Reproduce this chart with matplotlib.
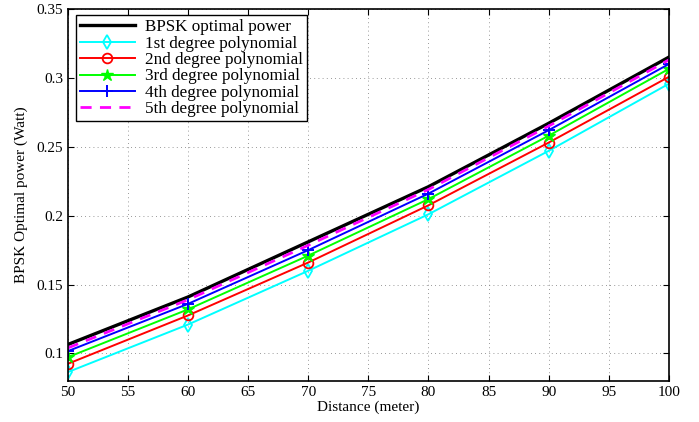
import matplotlib.pyplot as plt
import numpy as np

plt.rcParams["font.family"] = ["Liberation Serif", "DejaVu Serif"]
plt.rcParams["mathtext.fontset"] = "stix"

distance = [50, 60, 70, 80, 90, 100]
bpsk_opt = [0.1065, 0.1410, 0.1810, 0.2210, 0.2670, 0.3150]
poly1 = [0.0865, 0.1210, 0.1600, 0.2010, 0.2470, 0.2957]
poly2 = [0.0925, 0.1276, 0.1660, 0.2075, 0.2530, 0.3007]
poly3 = [0.0973, 0.1320, 0.1710, 0.2120, 0.2580, 0.3065]
poly4 = [0.1017, 0.1360, 0.1750, 0.2160, 0.2620, 0.3100]
poly5 = [0.1040, 0.1390, 0.1785, 0.2190, 0.2650, 0.3130]

xticks = np.arange(50, 101, 5)
yticks = [0.1, 0.15, 0.2, 0.25, 0.3, 0.35]
ytick_labels = ["0.1", "0.15", "0.2", "0.25", "0.3", "0.35"]

fig = plt.figure(figsize=(6.99, 4.22), dpi=100)
ax = fig.add_axes([0.097, 0.097, 0.86, 0.882])

ax.plot(distance, bpsk_opt, color="black", lw=2.4, label="BPSK optimal power")
ax.plot(distance, poly1, color="cyan", lw=1.4, marker="d", ms=7, mfc="none", mew=1.3,
        label="1st degree polynomial")
ax.plot(distance, poly2, color="red", lw=1.4, marker="o", ms=7, mfc="none", mew=1.3,
        label="2nd degree polynomial")
ax.plot(distance, poly3, color="lime", lw=1.4, marker="*", ms=9, mew=1.0,
        label="3rd degree polynomial")
ax.plot(distance, poly4, color="blue", lw=1.4, marker="+", ms=9, mew=1.4,
        label="4th degree polynomial")
ax.plot(distance, poly5, color="magenta", lw=2.0, ls=(0, (4, 3)),
        label="5th degree polynomial")

ax.set_xlim(50, 100)
ax.set_ylim(0.08, 0.35)
ax.set_xticks(xticks)
ax.set_yticks(yticks)
ax.set_yticklabels(ytick_labels)
ax.grid(True, ls=(0, (1, 4)), color="#777777", lw=0.6)
ax.tick_params(direction="in", top=True, right=True, labelsize=11, length=4)
for sp in ax.spines.values():
    sp.set_linewidth(1.2)

ax.set_xlabel("Distance (meter)", fontsize=11, labelpad=1)
ax.set_ylabel("BPSK Optimal power (Watt)", fontsize=11, labelpad=6)

leg = ax.legend(loc="upper left", bbox_to_anchor=(0.013, 0.983), fontsize=12.3,
                frameon=True, fancybox=False, edgecolor="black", framealpha=1,
                borderpad=0.25, labelspacing=0.02, handlelength=3.2, handletextpad=0.6,
                borderaxespad=0.0)
leg.get_frame().set_linewidth(1.0)

fig.savefig("out.png", dpi=100, facecolor="white")
